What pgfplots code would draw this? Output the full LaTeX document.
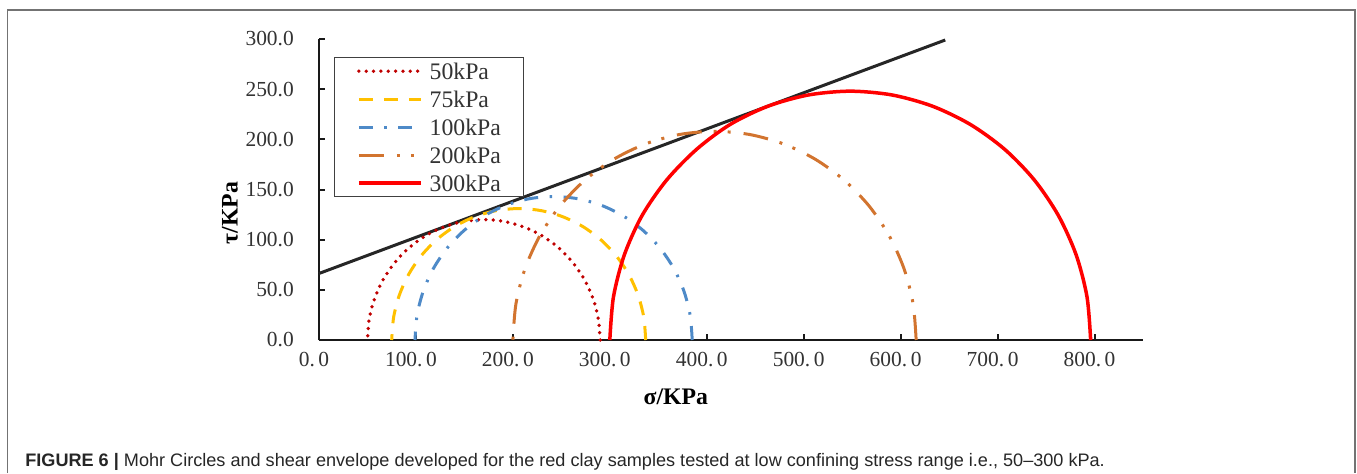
\documentclass[border=0pt]{standalone}
\usepackage{pgfplots}
\pgfplotsset{compat=1.18}
\usepackage{fontspec}
\setmainfont{Liberation Serif}
\newfontfamily\capfont{Liberation Sans}

\definecolor{c50}{HTML}{C00000}
\definecolor{c75}{HTML}{FFC000}
\definecolor{c100}{HTML}{4E8AC8}
\definecolor{c200}{HTML}{D2742F}
\definecolor{c300}{HTML}{FF0000}
\definecolor{envc}{HTML}{262626}

\begin{document}
\begin{tikzpicture}
\useasboundingbox (0,0) rectangle (27.14cm,9.46cm);
% figure frame
\draw[black!55, line width=0.35mm] (0.15cm,0) -- (0.15cm,9.26cm) -- (27.10cm,9.26cm) -- (27.10cm,0);
\begin{axis}[
    at={(6.38cm,2.66cm)}, anchor=south west,
    scale only axis, width=16.48cm, height=6.02cm,
    xmin=0, xmax=850, ymin=0, ymax=300,
    clip=false,
    axis x line=bottom, axis y line=left,
    axis line style={-, line width=0.5mm, black!90},
    tick align=inside, major tick length=1.2mm,
    tick style={line width=0.4mm, black!90},
    xtick={0,100,...,800},
    xticklabels={0.\,0, 100.\,0, 200.\,0, 300.\,0, 400.\,0, 500.\,0, 600.\,0, 700.\,0, 800.\,0},
    ytick={0,50,...,300},
    /pgf/number format/fixed, /pgf/number format/fixed zerofill,
    /pgf/number format/precision=1, /pgf/number format/assume math mode=true,
    tick label style={font=\fontsize{12.2}{14}\selectfont, text=black!80},
    yticklabel style={xshift=-3.8mm},
    xticklabel style={yshift=-1.2mm, xshift=-1mm},
    xlabel={\bfseries σ/KPa},
    ylabel={\bfseries τ/KPa},
    label style={font=\fontsize{13.5}{16}\selectfont},
    xlabel style={at={(axis description cs:0.433,-0.189)}, anchor=center},
    ylabel style={at={(axis description cs:-0.108,0.422)}, anchor=center},
    legend style={at={(axis description cs:0.018,0.94)}, anchor=north west,
        draw=black!75, line width=0.25mm, font=\fontsize{13.5}{16}\selectfont,
        text=black!80, inner xsep=4.5mm, inner ysep=0.9mm, row sep=2mm, column sep=1.4mm,
        nodes={inner sep=0pt, text height=3.4mm, text depth=0.2mm}},
    legend cell align=left,
    legend image code/.code={\draw[#1] (0mm,0mm) -- (12.4mm,0mm);},
]
% shear envelope
\addplot[envc, line width=0.6mm, forget plot] coordinates {(0,66.3) (646,299)};

\addplot[c50, line width=0.75mm, line cap=round, dash pattern=on 0pt off 1.47mm, smooth] coordinates {
(290,0) (288.18,20.83) (282.76,41.04) (273.92,60) (261.92,77.14) (247.14,91.92)
(230,103.92) (211.04,112.76) (190.83,118.18) (170,120) (149.17,118.18) (128.96,112.76)
(110,103.92) (92.86,91.92) (78.08,77.14) (66.08,60) (57.24,41.04) (51.82,20.83) (50,0)};
\addlegendentry{50kPa}

\addplot[c75, line width=0.6mm, dash pattern=on 2.8mm off 2.2mm, smooth] coordinates {
(337,0) (335.01,22.74) (329.10,44.80) (319.45,65.5) (306.35,84.21) (290.21,100.35)
(271.5,113.45) (250.80,123.10) (228.74,129.01) (206,131) (183.26,129.01) (161.20,123.10)
(140.5,113.45) (121.79,100.35) (105.65,84.21) (92.55,65.5) (82.90,44.80) (76.99,22.74) (75,0)};
\addlegendentry{75kPa}

\addplot[c100, line width=0.6mm, dash pattern=on 2.8mm off 2.3mm on 0.5mm off 2.3mm, smooth] coordinates {
(385,0) (382.83,24.82) (376.38,48.91) (365.84,71.5) (351.54,91.92) (333.92,109.54)
(313.5,123.84) (290.91,134.38) (266.82,140.83) (242,143) (217.18,140.83) (193.09,134.38)
(170.5,123.84) (150.08,109.54) (132.46,91.92) (118.16,71.5) (107.62,48.91) (101.17,24.82) (99,0)};
\addlegendentry{100kPa}

\addplot[c200, line width=0.6mm, dash pattern=on 5mm off 2.6mm on 0.6mm off 2.2mm on 0.6mm off 2.4mm, smooth] coordinates {
(616,0) (612.84,36.11) (603.46,71.14) (588.13,104) (567.33,133.70) (541.70,159.33)
(512,180.13) (479.14,195.46) (444.11,204.84) (408,208) (371.89,204.84) (336.86,195.46)
(304,180.13) (274.30,159.33) (248.67,133.70) (227.87,104) (212.54,71.14) (203.16,36.11) (200,0)};
\addlegendentry{200kPa}

\addplot[c300, line width=0.7mm, smooth] coordinates {
(796,0) (792.23,43.05) (781.05,84.82) (762.77,124) (737.97,159.41) (707.41,189.97)
(672,214.77) (632.82,233.05) (591.05,244.23) (548,248) (504.95,244.23) (463.18,233.05)
(424,214.77) (389.41,189.97) (358.59,159.41) (333.23,124) (314.95,84.82) (303.77,43.05) (300,0)};
\addlegendentry{300kPa}
\end{axis}
\node[anchor=base west, inner sep=0pt, font=\capfont\fontsize{10.3}{12}\selectfont, text=black!85]
  at (0.50cm,0.14cm) {\textbf{FIGURE 6 |} Mohr Circles and shear envelope developed for the red clay samples tested at low confining stress range i.e., 50–300 kPa.};
\end{tikzpicture}
\end{document}
